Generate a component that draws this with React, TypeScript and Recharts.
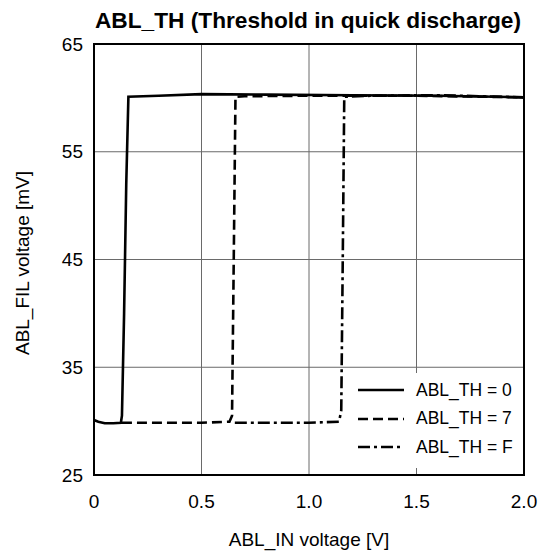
import {
  CartesianGrid,
  Label,
  Legend,
  Line,
  LineChart,
  ReferenceArea,
  XAxis,
  YAxis,
} from "recharts";

const FONT = '"Liberation Sans", Arial, sans-serif';

const X_TICKS = [0, 0.5, 1, 1.5, 2];
const Y_TICKS = [25, 35, 45, 55, 65];

// ABL_TH = 0
const TH0_X = [0, 0.02, 0.05, 0.09, 0.125, 0.13, 0.14, 0.15, 0.16, 0.3, 0.5, 0.8, 1.2, 1.6, 2.0];
const TH0_Y = [30.1, 29.95, 29.8, 29.8, 29.85, 30.5, 40, 52, 60.1, 60.2, 60.35, 60.3, 60.25, 60.2, 60.05];

// ABL_TH = 7
const TH7_X = [0.13, 0.3, 0.5, 0.63, 0.642, 0.65, 0.658, 0.7, 1.0, 1.5, 2.0];
const TH7_Y = [29.85, 29.85, 29.85, 29.95, 30.5, 45, 60.1, 60.15, 60.2, 60.2, 60.05];

// ABL_TH = F
const THF_X = [0.655, 0.8, 1.0, 1.14, 1.15, 1.157, 1.164, 1.3, 1.6, 2.0];
const THF_Y = [29.85, 29.85, 29.85, 29.95, 31, 45, 60.1, 60.2, 60.25, 60.05];

const zip = (xs: number[], ys: number[]) => xs.map((x, i) => ({ x, v: ys[i] }));

const SERIES = [
  { name: "ABL_TH = 0", data: zip(TH0_X, TH0_Y), dash: undefined as string | undefined },
  { name: "ABL_TH = 7", data: zip(TH7_X, TH7_Y), dash: "10 5" },
  { name: "ABL_TH = F", data: zip(THF_X, THF_Y), dash: "12 4 3 4" },
];

function LegendBox() {
  return (
    <div style={{ background: "#fff", paddingTop: 3, fontFamily: FONT, fontSize: 17.5 }}>
      {SERIES.map((s) => (
        <div key={s.name} style={{ display: "flex", alignItems: "center", height: 28.5 }}>
          <svg width={49} height={10} style={{ marginLeft: 3, marginRight: 9 }}>
            <line x1={0} y1={5} x2={46} y2={5} stroke="#000" strokeWidth={2.6} strokeDasharray={s.dash} />
          </svg>
          <span style={{ color: "#000", lineHeight: 1 }}>{s.name}</span>
        </div>
      ))}
    </div>
  );
}

function XTitle(props: any) {
  const vb = props.viewBox;
  return (
    <text x={vb.x + vb.width / 2} y={vb.y + 70.5} textAnchor="middle" fontSize={19} fontFamily={FONT} fill="#000">
      ABL_IN voltage [V]
    </text>
  );
}

function YTitle(props: any) {
  const vb = props.viewBox;
  const cx = 29;
  const cy = vb.y + vb.height / 2 + 3.5;
  return (
    <text x={cx} y={cy} transform={`rotate(-90, ${cx}, ${cy})`} textAnchor="middle" fontSize={19} fontFamily={FONT} fill="#000">
      ABL_FIL voltage [mV]
    </text>
  );
}

export default function App() {
  return (
    <div style={{ position: "absolute", left: 0, top: 0, width: 545, height: 552, background: "#fff", fontFamily: FONT }}>
      <div
        style={{
          position: "absolute",
          left: 93,
          top: 9,
          width: 430,
          textAlign: "center",
          fontWeight: "bold",
          fontSize: 22.7,
          lineHeight: "23px",
          color: "#000",
          zIndex: 2,
        }}
      >
        ABL_TH (Threshold in quick discharge)
      </div>
      <LineChart width={545} height={552} margin={{ top: 44, right: 21, bottom: 37, left: 0 }}>
        <CartesianGrid stroke="#6a6a6a" strokeWidth={1} horizontalValues={Y_TICKS} verticalValues={X_TICKS} />
        <XAxis
          type="number"
          dataKey="x"
          domain={[0, 2]}
          ticks={X_TICKS}
          interval={0}
          allowDataOverflow
          tickFormatter={(v: number) => (v === 0 ? "0" : v.toFixed(1))}
          tick={{ fontSize: 19, fill: "#000", fontFamily: FONT }}
          tickLine={false}
          axisLine={false}
          tickSize={0}
          tickMargin={20}
          height={40}
        >
          <Label content={XTitle} />
        </XAxis>
        <YAxis
          type="number"
          domain={[25, 65]}
          ticks={Y_TICKS}
          interval={0}
          allowDataOverflow
          tick={{ fontSize: 19, fill: "#000", fontFamily: FONT }}
          tickLine={false}
          axisLine={false}
          tickSize={0}
          tickMargin={11}
          width={94}
        >
          <Label content={YTitle} />
        </YAxis>
        <ReferenceArea x1={0} x2={2} y1={25} y2={65} fill="none" stroke="#000" strokeWidth={2} />
        {[...SERIES].reverse().map((s) => (
          <Line
            key={s.name}
            data={s.data}
            dataKey="v"
            name={s.name}
            type="linear"
            stroke="#000"
            strokeWidth={2.6}
            strokeDasharray={s.dash}
            dot={false}
            activeDot={false}
            isAnimationActive={false}
          />
        ))}
        <Legend
          layout="vertical"
          align="center"
          verticalAlign="middle"
          content={() => <LegendBox />}
          wrapperStyle={{ left: 355, top: 373, width: 167, height: 95, background: "#fff" }}
        />
      </LineChart>
    </div>
  );
}
